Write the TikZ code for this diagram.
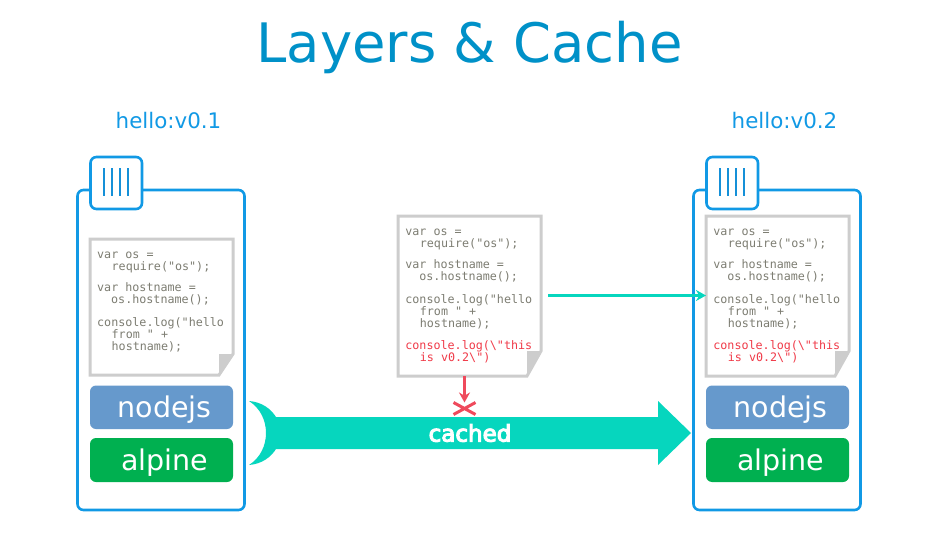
\documentclass[tikz,border=0pt]{standalone}
\usepackage{fontspec}
\setmainfont{DejaVu Sans}
\setmonofont{DejaVu Sans Mono}
\newfontfamily\fatfont[FakeBold=4.5]{DejaVu Sans}
\usetikzlibrary{arrows.meta,shapes.misc,calc}
\definecolor{titleblue}{HTML}{0091C8}
\definecolor{labelblue}{HTML}{1199E5}
\definecolor{linesblue}{HTML}{1590D8}
\definecolor{nodeblue}{HTML}{6699CC}
\definecolor{alpinegreen}{HTML}{00B050}
\definecolor{tealc}{HTML}{06D6BE}
\definecolor{redc}{HTML}{EF4A5C}
\definecolor{docgrey}{HTML}{CDCDCD}
\definecolor{codegrey}{HTML}{7D7D72}
\definecolor{codered}{HTML}{F03A48}
\tikzset{
  titlelabel/.style={text=titleblue,font=\fontsize{54.4}{60}\selectfont,inner sep=0pt},
  verlabel/.style={text=labelblue,font=\fontsize{21.4}{24}\selectfont,inner sep=0pt},
  outerbox/.style={draw=labelblue,line width=2.6pt,outer sep=0pt,rounded corners=6pt,fill=white,anchor=north west,minimum width=167pt,minimum height=320pt,inner sep=0pt},
  tabbox/.style={draw=labelblue,line width=2.6pt,outer sep=0pt,rounded corners=6pt,fill=white,anchor=north west,minimum width=51.5pt,minimum height=52pt,inner sep=0pt},
  tabline/.style={draw=linesblue,line width=2.2pt},
  docnode/.style={anchor=north west,minimum width=143pt,inner sep=0pt,outer sep=0pt},
  docline/.style={draw=docgrey,line width=3pt,fill=white,miter limit=4},
  foldfill/.style={fill=docgrey,draw=none},
  codetext/.style={anchor=base west,inner sep=0pt,text=codegrey,font=\ttfamily\fontsize{11.7}{12}\selectfont},
  codered/.style={codetext,text=codered},
  layerbox/.style={anchor=north west,rounded corners=6pt,minimum width=143pt,inner sep=0pt,outer sep=0pt,text=white,text height=27.5pt,text depth=6.7pt,font=\fontsize{28.5}{30}\selectfont},
  nodelayer/.style={layerbox,fill=nodeblue,minimum height=43.5pt},
  alpinelayer/.style={layerbox,fill=alpinegreen,minimum height=44pt},
  tealflow/.style={draw=tealc,line width=3pt,-{Stealth[length=10pt,width=11pt]}},
  redflow/.style={draw=redc,line width=3pt,-{Stealth[length=10pt,width=11pt]}},
  crossmark/.style={draw=redc,line width=3pt,cross out,minimum width=22pt,minimum height=12pt,inner sep=0pt,outer sep=0pt},
  cachedlabel/.style={text=white,inner sep=0pt,font=\fatfont\fontsize{23}{24}\selectfont},
}
\newcommand{\docshape}[2]{%
  \draw[docline] (#1.north west) -- (#1.north east) -- ([yshift=#2]#1.south east)
     -- ([xshift=-14pt]#1.south east) -- (#1.south west) -- cycle;
  \fill[foldfill] ([yshift=#2]#1.south east) -- ([xshift=-14pt,yshift=#2]#1.south east) -- ([xshift=-14pt]#1.south east) -- cycle;
}
\newcommand{\basecode}[2]{%
  \begin{scope}[shift={(#1)},name prefix=#2]
    \node[codetext] (a) at (0,0) {var os =};
    \node[codetext] (b) at (14.5,12) {require("os");};
    \node[codetext] (c) at (0,33.5) {var hostname =};
    \node[codetext] (d) at (14,45.5) {os.hostname();};
    \node[codetext] (e) at (0,68) {console.log("hello};
    \node[codetext] (f) at (14.5,80) {from " +};
    \node[codetext] (g) at (14.5,92) {hostname);};
  \end{scope}}
\newcommand{\redcode}[2]{%
  \begin{scope}[shift={(#1)},name prefix=#2]
    \node[codered] (h) at (0,114) {console.log(\textbackslash"this};
    \node[codered] (i) at (14.5,126) {is v0.2\textbackslash")};
  \end{scope}}
\newcommand{\tabmarks}[1]{%
  \foreach \dx in {13.5,21.5,29.5,37.5}{
    \draw[tabline] ([xshift=\dx pt,yshift=-11pt]#1.north west) -- ([xshift=\dx pt,yshift=-39pt]#1.north west);
  }}
\begin{document}
\begin{tikzpicture}[x=1pt,y=-1pt]
\useasboundingbox (0,0) rectangle (943,551);
\fill[white] (0,0) rectangle (943,551);

\node[titlelabel] (title) at (469.5,47.5) {Layers \& Cache};
\node[verlabel] (v1) at (168.5,120.5) {hello:v0.1};
\node[verlabel] (v2) at (784.5,120.5) {hello:v0.2};

% left image
\node[outerbox] (boxl) at (77.5,190) {};
\node[tabbox] (tabl) at (90.5,157) {};
\tabmarks{tabl}
\node[docnode,minimum height=136pt] (docl) at (90,239) {};
\docshape{docl}{21pt}
\basecode{97,258}{l}
\node[nodelayer] (nl) at (90,385.5) {\hspace{6pt}nodejs};
\node[alpinelayer] (al) at (90,438) {\hspace{6pt}alpine};

% right image
\node[outerbox] (boxr) at (693.5,190) {};
\node[tabbox] (tabr) at (706.5,157) {};
\tabmarks{tabr}
\node[docnode,minimum height=160pt] (docr) at (706,216) {};
\docshape{docr}{25pt}
\basecode{713.2,235}{r}
\redcode{713.2,235}{r}
\node[nodelayer] (nr) at (706,385.5) {\hspace{6pt}nodejs};
\node[alpinelayer] (ar) at (706,438) {\hspace{6pt}alpine};

% middle document
\node[docnode,minimum height=160pt] (docm) at (398,216) {};
\docshape{docm}{25pt}
\basecode{405.2,235}{m}
\redcode{405.2,235}{m}

% big arrow
\fill[tealc] (249,401) .. controls (262,402) and (271,409) .. (276,417)
  -- (658,417) -- (658,401) -- (691,433) -- (658,465) -- (658,449) -- (276,449)
  .. controls (271,457) and (262,464) .. (249,465)
  .. controls (260,458) and (266,446) .. (266,433)
  .. controls (266,420) and (260,408) .. (249,401) -- cycle;
\node[cachedlabel] (cached) at (470,433) {cached};

% connectors
\node[crossmark] (xm) at (464.5,408.5) {};
\draw[redflow] ([xshift=-5pt]docm.south) -- (xm.north);
\draw[tealflow,shorten <=7pt] ([yshift=0.5pt]docm.east) -- ([yshift=0.5pt]docr.west);
\end{tikzpicture}
\end{document}
